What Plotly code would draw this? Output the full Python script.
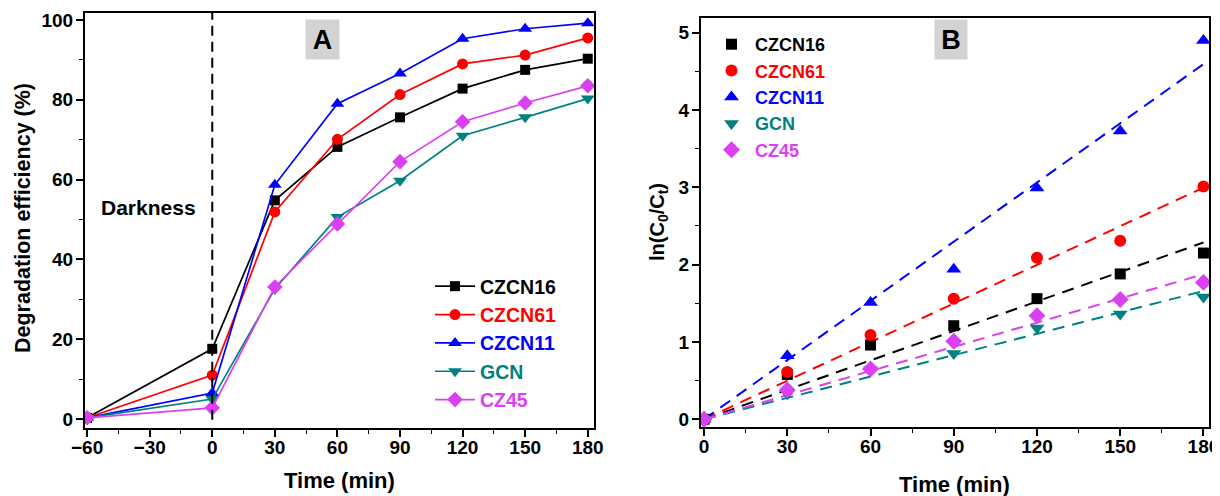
import numpy as np
import plotly.graph_objects as go

# ---------------- data ----------------
series_names = ["CZCN16", "CZCN61", "CZCN11", "GCN", "CZ45"]
series_colors = ["#000000", "#FF0000", "#0000FF", "#008080", "#DA40F2"]
series_symbols = ["square", "circle", "triangle-up", "triangle-down", "diamond"]
series_sizes = [10, 11, 12, 12, 12]

# Panel A: degradation efficiency (%) vs time (min)
time_a = [-60, 0, 30, 60, 90, 120, 150, 180]
eff_czcn16 = [0.3, 17.6, 54.8, 68.2, 75.6, 82.8, 87.5, 90.3]
eff_czcn61 = [0.3, 11.0, 51.9, 70.1, 81.3, 89.0, 91.2, 95.5]
eff_czcn11 = [0.3, 6.5, 58.7, 79.0, 86.6, 95.3, 97.8, 99.2]
eff_gcn = [0.3, 5.0, 32.6, 50.6, 59.7, 71.0, 75.6, 80.3]
eff_cz45 = [0.3, 2.8, 33.1, 48.9, 64.5, 74.5, 79.2, 83.5]
eff_all = [eff_czcn16, eff_czcn61, eff_czcn11, eff_gcn, eff_cz45]

# Panel B: ln(C0/Ct) vs time (min)
time_b = [0, 30, 60, 90, 120, 150, 180]
ln_czcn16 = [0.0, 0.58, 0.96, 1.21, 1.56, 1.88, 2.15]
ln_czcn61 = [0.0, 0.61, 1.09, 1.56, 2.09, 2.31, 3.01]
ln_czcn11 = [0.0, 0.82, 1.51, 1.94, 2.99, 3.73, 4.90]
ln_gcn = [0.0, 0.33, 0.64, 0.85, 1.18, 1.36, 1.58]
ln_cz45 = [0.0, 0.38, 0.65, 1.01, 1.34, 1.55, 1.77]
ln_all = [ln_czcn16, ln_czcn61, ln_czcn11, ln_gcn, ln_cz45]

xticks_a = [-60, -30, 0, 30, 60, 90, 120, 150, 180]
yticks_a = [0, 20, 40, 60, 80, 100]
xticks_b = [0, 30, 60, 90, 120, 150, 180]
yticks_b = [0, 1, 2, 3, 4, 5]

FONT = "Liberation Sans, Arial, sans-serif"
W, H = 1220, 496

# the page body adds an 8 px offset to the figure
OX, OY = 8.0, 8.0


def px_x(p):
    return (p - OX) / W


def px_y(p):
    return 1 - (p - OY) / H


fig = go.Figure()

# Panel A traces
for name, col, sym, sz, ys in zip(series_names, series_colors, series_symbols, series_sizes, eff_all):
    fig.add_trace(go.Scatter(
        x=time_a, y=ys, mode="lines+markers", xaxis="x", yaxis="y",
        line=dict(color=col, width=1.7),
        marker=dict(symbol=sym, size=sz, color=col),
        name=f"<b><span style='color:{col}'>{name}</span></b>",
        legend="legend",
    ))

# Panel B: pseudo-first-order fits through origin (least squares)
tb = np.array(time_b, dtype=float)
for name, col, ys in zip(series_names, series_colors, ln_all):
    yb = np.array(ys, dtype=float)
    k = float(np.sum(tb * yb) / np.sum(tb * tb))
    tfit = np.array([tb.min(), tb.max()])
    fig.add_trace(go.Scatter(
        x=tfit, y=k * tfit, mode="lines", xaxis="x2", yaxis="y2",
        line=dict(color=col, width=2, dash="12px,8px"),
        showlegend=False, hoverinfo="skip",
    ))

for name, col, sym, sz, ys in zip(series_names, series_colors, series_symbols, series_sizes, ln_all):
    fig.add_trace(go.Scatter(
        x=time_b, y=ys, mode="markers", xaxis="x2", yaxis="y2",
        marker=dict(symbol=sym, size=sz + 1, color=col),
        name=f"<b><span style='color:{col}'>{name}</span></b>",
        legend="legend2",
    ))

tickfont = dict(family=FONT, size=19, color="black", weight="bold")
common = dict(
    showline=True, linecolor="black", linewidth=2, mirror=True,
    ticks="outside", ticklen=7, tickwidth=1.6, tickcolor="black",
    showgrid=False, zeroline=False, tickfont=tickfont,
)
minor_common = dict(ticks="outside", ticklen=4, tickwidth=1.4, tick0=0, tickcolor="black")

fig.update_layout(
    width=W, height=H,
    margin=dict(l=0, r=0, t=0, b=0, autoexpand=False),
    paper_bgcolor="white", plot_bgcolor="white",
    font=dict(family=FONT, color="black"),
    xaxis=dict(domain=[px_x(85), px_x(594)], range=[-61, 183], tickvals=xticks_a,
               minor=dict(dtick=15, **minor_common),
               anchor="y", ticklabelstandoff=-6, **common),
    yaxis=dict(domain=[px_y(428), px_y(13)], range=[-2.25, 101.75], tickvals=yticks_a,
               minor=dict(dtick=10, **minor_common),
               anchor="x", ticklabelstandoff=-1, **common),
    xaxis2=dict(domain=[px_x(701), px_x(1209)], range=[-1.1, 182.0], tickvals=xticks_b,
                minor=dict(dtick=15, **minor_common),
                anchor="y2", ticklabelstandoff=-6, **common),
    yaxis2=dict(domain=[px_y(427), px_y(18)], range=[-0.1, 5.19], tickvals=yticks_b,
                minor=dict(dtick=0.5, **minor_common),
                anchor="x2", ticklabelstandoff=-1, **common),
    legend=dict(x=422 / W, y=1 - 259 / H, xanchor="left", yanchor="top",
                bgcolor="rgba(0,0,0,0)", borderwidth=0,
                font=dict(family=FONT, size=19.5, color="black"),
                itemwidth=40, tracegroupgap=0),
    legend2=dict(x=700 / W, y=1 - 18 / H, xanchor="left", yanchor="top",
                 bgcolor="rgba(0,0,0,0)", borderwidth=0,
                 font=dict(family=FONT, size=18, color="black"),
                 itemwidth=37, tracegroupgap=0),
    showlegend=True,
)

# Dashed line marking end of darkness period
fig.add_shape(type="line", xref="x", yref="y domain", x0=0, x1=0, y0=0.02, y1=1,
              line=dict(color="black", width=2, dash="10px,6px"))

ann_font = dict(family=FONT, color="black", weight="bold")
center = dict(xanchor="center", yanchor="middle", xref="paper", yref="paper", showarrow=False)
annotations = [
    dict(text="Darkness", x=-30.8, y=53, xref="x", yref="y", showarrow=False,
         xanchor="center", yanchor="middle", font=dict(size=21, **ann_font)),
    dict(text="A", x=px_x(322), y=px_y(40), bgcolor="#D3D3D3", width=31, height=37,
         font=dict(size=27, **ann_font), **center),
    dict(text="B", x=px_x(951), y=px_y(40), bgcolor="#D3D3D3", width=30, height=37,
         font=dict(size=27, **ann_font), **center),
    dict(text="Time (min)", x=px_x(339), y=px_y(480), font=dict(size=22, **ann_font), **center),
    dict(text="Time (min)", x=px_x(954), y=px_y(484), font=dict(size=22, **ann_font), **center),
    dict(text="Degradation efficiency (%)", x=px_x(23), y=px_y(218), textangle=-90,
         font=dict(size=21.5, **ann_font), **center),
    dict(text="ln(C<sub>0</sub>/C<sub>t</sub>)", x=px_x(659), y=px_y(222), textangle=-90,
         font=dict(size=20, **ann_font), **center),
]
fig.update_layout(annotations=annotations)

fig.write_html("out.html")
